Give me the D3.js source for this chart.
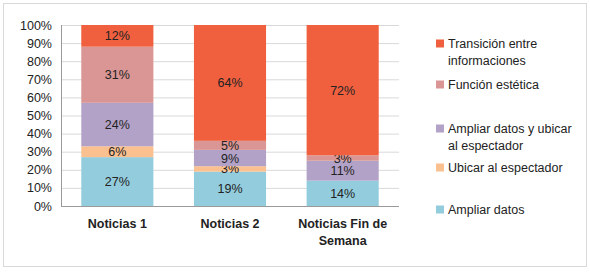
<!DOCTYPE html>
<html><head><meta charset="utf-8">
<script src="https://cdn.jsdelivr.net/npm/d3@7"></script>
<style>body{margin:0;background:#fff}svg{display:block}</style>
</head><body>
<svg id="c" width="590" height="273"></svg>
<script>
const categories = [["Noticias 1"], ["Noticias 2"], ["Noticias Fin de", "Semana"]];
const seriesNames = ["Ampliar datos", "Ubicar al espectador", "Ampliar datos y ubicar al espectador", "Función estética", "Transición entre informaciones"];
const ampliar = [27, 19, 14];
const ubicar = [6, 3, 0];
const ampliarUbicar = [24, 9, 11];
const funcion = [31, 5, 3];
const transicion = [12, 64, 72];
const colors = ["#93CDDD", "#FAC090", "#B3A2C7", "#D99694", "#F0603F"];
const yTicks = [0,10,20,30,40,50,60,70,80,90,100];
const legendLines = [["Transición entre","informaciones"],["Función estética"],["Ampliar datos y ubicar","al espectador"],["Ubicar al espectador"],["Ampliar datos"]];
const legendColorIdx = [4,3,2,1,0];

const values = [ampliar, ubicar, ampliarUbicar, funcion, transicion];
const svg = d3.select("#c");
const font = "'Liberation Sans', Arial, sans-serif";
svg.append("rect").attr("x",3.5).attr("y",3.5).attr("width",583).attr("height",263).attr("fill","#fff").attr("stroke","#d9d9d9");

const x = d3.scaleBand().domain(d3.range(categories.length)).range([61,399]).paddingInner(0.36).paddingOuter(0.18);
const y = d3.scaleLinear().domain([0,100]).range([206,25]);

svg.append("g").selectAll("line").data(yTicks.slice(1)).join("line")
  .attr("x1",61).attr("x2",399).attr("y1",d=>y(d)+0.5).attr("y2",d=>y(d)+0.5).attr("stroke","#d9d9d9");

svg.append("g").selectAll("text").data(yTicks).join("text")
  .attr("x",52).attr("y",d=>y(d)+4.5).attr("text-anchor","end")
  .attr("font-family",font).attr("font-size",12.5).attr("fill","#222").text(d=>d+"%");

const stacked = d3.stack().keys(d3.range(values.length)).value((d,k)=>values[k][d])(d3.range(categories.length));
stacked.forEach((layer,k)=>{
  const g = svg.append("g");
  g.selectAll("rect").data(layer).join("rect")
    .attr("x",(d,i)=>x(i)).attr("width",x.bandwidth())
    .attr("y",d=>y(d[1])).attr("height",d=>y(d[0])-y(d[1]))
    .attr("fill",colors[k]);
  g.selectAll("text").data(layer.map((d,i)=>({d,i})).filter(o=>values[k][o.i]>0)).join("text")
    .attr("x",o=>x(o.i)+x.bandwidth()/2).attr("y",o=>(y(o.d[0])+y(o.d[1]))/2+4.5)
    .attr("text-anchor","middle").attr("font-family",font).attr("font-size",12.5).attr("fill","#222")
    .text(o=>values[k][o.i]+"%");
});

svg.append("line").attr("x1",61).attr("x2",399).attr("y1",206.5).attr("y2",206.5).attr("stroke","#9a9a9a");
svg.append("line").attr("x1",61.5).attr("x2",61.5).attr("y1",25).attr("y2",206).attr("stroke","#9a9a9a");

categories.forEach((lines,i)=>{
  lines.forEach((t,j)=>{
    svg.append("text").attr("x",x(i)+x.bandwidth()/2).attr("y",228+j*17)
      .attr("text-anchor","middle").attr("font-family",font).attr("font-size",12.5).attr("font-weight","bold").attr("fill","#222").text(t);
  });
});

const legendY = [44,85,129,168,210];
legendLines.forEach((lines,i)=>{
  svg.append("rect").attr("x",436).attr("y",legendY[i]-4.5).attr("width",8).attr("height",8).attr("fill",colors[legendColorIdx[i]]);
  lines.forEach((t,j)=>{
    svg.append("text").attr("x",448).attr("y",legendY[i]+4+j*16.5).attr("font-family",font).attr("font-size",12.5).attr("fill","#222").text(t);
  });
});
</script>
</body></html>
